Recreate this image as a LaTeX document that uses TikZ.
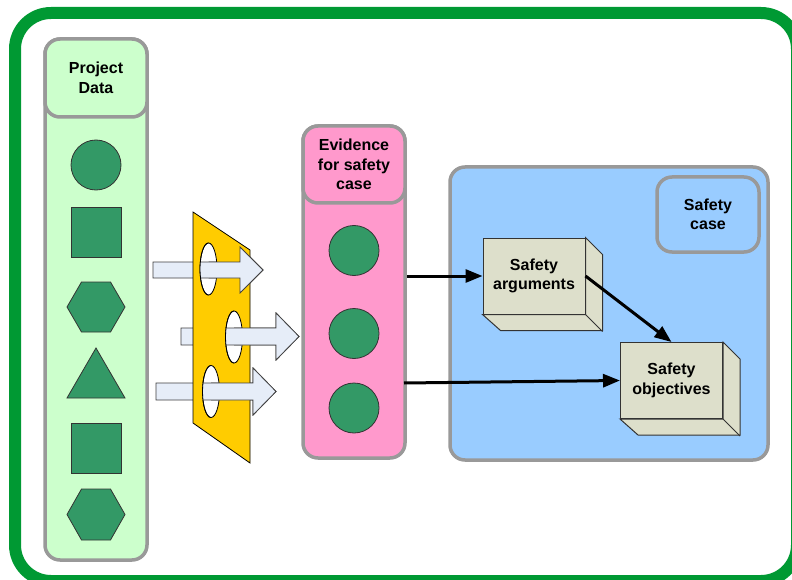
\documentclass[tikz,border=0pt]{standalone}
\usepackage{fontspec}
\setmainfont{Liberation Sans}
\usetikzlibrary{arrows.meta}
\definecolor{frameGreen}{HTML}{009933}
\definecolor{colGreen}{HTML}{CCFFCC}
\definecolor{colPink}{HTML}{FF99CC}
\definecolor{colBlue}{HTML}{99CCFF}
\definecolor{plateYellow}{HTML}{FFCC00}
\definecolor{shapeGreen}{HTML}{339966}
\definecolor{boxFace}{HTML}{DDDFCB}
\definecolor{arrowFill}{HTML}{E6EDF8}
\definecolor{borderGray}{HTML}{999999}
\newcommand\bArrowPath[6]{(#1,#4-#5) -- (#2,#4-#5) -- (#2,#4-#6) -- (#3,#4) -- (#2,#4+#6) -- (#2,#4+#5) -- (#1,#4+#5) -- cycle}
\begin{document}
\begin{tikzpicture}[x=1pt,y=-1pt,
  colbox/.style={draw=borderGray, line width=3.5pt, rounded corners=15pt, inner sep=0pt},
  headtext/.style={font=\fontsize{16}{19.5}\selectfont\bfseries, align=center},
  gshape/.style={draw=black!80, fill=shapeGreen, line width=0.8pt, inner sep=0pt},
  blockarrow/.style={draw=black!75, fill=arrowFill, line width=0.8pt},
  hole/.style={draw=black, fill=white, line width=0.8pt},
  box3d/.style={draw=black!80, fill=boxFace, line width=1pt, inner sep=0pt, minimum width=102pt, minimum height=76pt},
  conn/.style={draw=black, line width=3pt, -{Triangle[length=17pt,width=13pt]}}
]
\useasboundingbox (0,0) rectangle (792,580);
\clip (0,0) rectangle (792,580);
\fill[white] (0,0) rectangle (792,580);
% outer frame
\draw[line width=12pt, frameGreen, rounded corners=36pt] (15,13) rectangle (797,581);

% Project Data column
\node[colbox, fill=colGreen, minimum width=102pt, minimum height=521pt] (pd) at (96,299.5) {};
\node[colbox, fill=colGreen, minimum width=102pt, minimum height=78pt, headtext] (pdh) at (96,78) {Project\\Data};
\node[gshape, circle, minimum size=50pt] (pc1) at (96,165) {};
\node[gshape, rectangle, minimum size=50pt] (ps1) at (96,232) {};
\draw[gshape] (67,307) -- (81.5,282) -- (110.5,282) -- (125,307) -- (110.5,332) -- (81.5,332) -- cycle;
\draw[gshape] (96,348) -- (125,398) -- (67,398) -- cycle;
\node[gshape, rectangle, minimum size=50pt] (ps2) at (96,448) {};
\draw[gshape] (67,514.5) -- (81.5,489) -- (110.5,489) -- (125,514.5) -- (110.5,540) -- (81.5,540) -- cycle;

% block arrows, back parts
\draw[blockarrow] \bArrowPath{153}{240}{263}{270}{8}{23};
\draw[blockarrow] \bArrowPath{181}{276}{299}{336.5}{8.5}{23.5};
\draw[blockarrow] \bArrowPath{156}{253}{276}{391.5}{8.5}{23.5};

% plate
\draw[fill=plateYellow, draw=black, line width=0.8pt] (193,212) -- (250,250) -- (250,463) -- (193,423) -- cycle;

% holes
\draw[hole] (208.5,269) ellipse [x radius=8.5, y radius=26];
\draw[hole] (234,337) ellipse [x radius=8.5, y radius=26];
\draw[hole] (211,391.5) ellipse [x radius=8.5, y radius=26];

% front parts of arrows
\begin{scope}\clip (208.5,269) ellipse [x radius=8.5, y radius=26];
  \draw[blockarrow] \bArrowPath{153}{240}{263}{270}{8}{23};\end{scope}
\begin{scope}\clip (208.5,230) rectangle (300,310);
  \draw[blockarrow] \bArrowPath{153}{240}{263}{270}{8}{23};\end{scope}
\begin{scope}\clip (180,230) rectangle (208.5,310);
  \draw[black, line width=0.8pt] (208.5,269) ellipse [x radius=8.5, y radius=26];\end{scope}

\begin{scope}\clip (234,337) ellipse [x radius=8.5, y radius=26];
  \draw[blockarrow] \bArrowPath{181}{276}{299}{336.5}{8.5}{23.5};\end{scope}
\begin{scope}\clip (234,300) rectangle (320,375);
  \draw[blockarrow] \bArrowPath{181}{276}{299}{336.5}{8.5}{23.5};\end{scope}
\begin{scope}\clip (200,300) rectangle (234,375);
  \draw[black, line width=0.8pt] (234,337) ellipse [x radius=8.5, y radius=26];\end{scope}

\begin{scope}\clip (211,391.5) ellipse [x radius=8.5, y radius=26];
  \draw[blockarrow] \bArrowPath{156}{253}{276}{391.5}{8.5}{23.5};\end{scope}
\begin{scope}\clip (211,355) rectangle (300,430);
  \draw[blockarrow] \bArrowPath{156}{253}{276}{391.5}{8.5}{23.5};\end{scope}
\begin{scope}\clip (180,355) rectangle (211,430);
  \draw[black, line width=0.8pt] (211,391.5) ellipse [x radius=8.5, y radius=26];\end{scope}

% Evidence column
\node[colbox, fill=colPink, minimum width=102pt, minimum height=332pt] (ev) at (354,292) {};
\node[colbox, fill=colPink, minimum width=102pt, minimum height=77pt, headtext] (evh) at (354,164.5) {Evidence\\for safety\\case};
\node[gshape, circle, minimum size=50pt] (ec1) at (354,250.5) {};
\node[gshape, circle, minimum size=50pt] (ec2) at (354,333.5) {};
\node[gshape, circle, minimum size=50pt] (ec3) at (354,408) {};

% Safety case area
\node[colbox, fill=colBlue, minimum width=318pt, minimum height=293pt] (sc) at (609,313.5) {};
\node[colbox, fill=colBlue, minimum width=102pt, minimum height=75pt, headtext] (sch) at (708,214.5) {Safety\\case};

% 3D boxes
\node[box3d] (sa) at (534,276) {};
\draw[draw=black!80, fill=boxFace, line width=1pt] (sa.north east) -- ++(17,17) -- ++(0,76) -- ++(-102,0) -- (sa.south west) -- (sa.south east) -- cycle;
\draw[black!80, line width=1pt] (sa.south east) -- ++(17,17);
\node[box3d, headtext] (sat) at (534,276) {Safety\\arguments};

\node[box3d] (so) at (671.5,380.5) {};
\draw[draw=black!80, fill=boxFace, line width=1pt] (so.north east) -- ++(17,17) -- ++(0,76) -- ++(-102,0) -- (so.south west) -- (so.south east) -- cycle;
\draw[black!80, line width=1pt] (so.south east) -- ++(17,17);
\node[box3d, headtext] (sot) at (671.5,380.5) {Safety\\objectives};

% connectors
\coordinate (e1out) at (ev.east |- sat.west);
\coordinate (e3out) at (404,383);
\draw[conn] (e1out) -- (sat.west);
\draw[conn] (sat.east) -- (sot.north);
\draw[conn] (e3out) -- (sot.west);
\end{tikzpicture}
\end{document}
